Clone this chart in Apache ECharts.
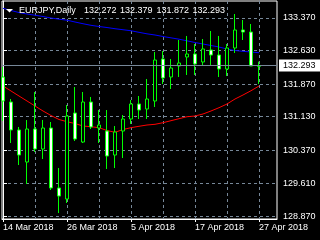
<!DOCTYPE html>
<html><head><meta charset="utf-8">
<script src="https://cdn.jsdelivr.net/npm/echarts@6/dist/echarts.min.js"></script>
<style>html,body{margin:0;padding:0;background:#000;}#c{width:320px;height:240px;}</style>
</head><body><div id="c"></div>
<script>
const symbol = 'EURJPY';
const timeframe = 'Daily';
const dates = ['14 Mar 2018','15 Mar 2018','16 Mar 2018','19 Mar 2018','20 Mar 2018','21 Mar 2018','22 Mar 2018','23 Mar 2018','26 Mar 2018','27 Mar 2018','28 Mar 2018','29 Mar 2018','30 Mar 2018','2 Apr 2018','3 Apr 2018','4 Apr 2018','5 Apr 2018','6 Apr 2018','9 Apr 2018','10 Apr 2018','11 Apr 2018','12 Apr 2018','13 Apr 2018','16 Apr 2018','17 Apr 2018','18 Apr 2018','19 Apr 2018','20 Apr 2018','23 Apr 2018','24 Apr 2018','25 Apr 2018','26 Apr 2018','27 Apr 2018'];
const open  = [132.031,131.464,130.829,130.102,130.851,130.397,130.874,129.513,129.263,131.214,130.556,131.464,130.874,130.806,130.261,130.806,131.078,131.419,131.305,131.487,132.440,132.031,132.281,132.485,132.553,132.372,132.644,132.530,132.213,132.689,133.098,133.052,132.272];
const high  = [132.258,131.532,130.897,131.055,131.691,131.055,131.010,129.966,131.396,131.804,131.691,131.578,131.282,131.282,130.919,131.169,131.509,131.600,131.986,132.599,132.621,132.440,132.871,132.962,132.780,132.893,133.075,132.962,132.780,133.461,133.325,133.234,132.379];
const low   = [131.033,130.534,130.034,129.603,130.329,130.171,129.467,128.945,129.172,130.579,130.534,130.851,130.534,129.944,129.966,130.193,130.965,131.078,131.078,131.350,131.872,131.759,132.031,132.077,132.077,132.304,132.304,132.031,132.054,132.576,132.871,132.281,131.872];
const close = [131.487,130.829,130.261,130.851,130.397,130.874,129.513,129.330,131.146,130.624,131.464,130.897,130.942,130.239,130.783,131.078,131.419,131.282,131.532,132.417,132.009,132.235,132.349,132.553,132.326,132.667,132.530,132.213,132.689,133.098,133.052,132.281,132.293];
const maRed  = [131.827,131.714,131.600,131.487,131.373,131.260,131.158,131.067,131.017,130.976,130.919,130.903,130.881,130.817,130.776,130.840,130.881,130.913,130.942,130.958,130.994,131.040,131.085,131.130,131.146,131.192,131.260,131.335,131.419,131.532,131.623,131.720,131.827];
const maBlue = [133.590,133.540,133.494,133.460,133.433,133.404,133.370,133.343,133.320,133.279,133.240,133.204,133.177,133.154,133.127,133.104,133.081,133.045,133.011,132.984,132.950,132.920,132.889,132.852,132.814,132.780,132.746,132.712,132.666,132.632,132.614,132.598,132.582];
const priceTicks = [128.870,129.610,130.370,131.130,131.870,132.630,133.370];
const dateTickIdx = [0,8,16,24,32];
const gridIdx = [4,8,12,16,20,24,28,32];

const FONT = '"Liberation Sans", Arial, sans-serif';
const last = close.length - 1;
const candleData = dates.map((d,i)=>[i, open[i], close[i], low[i], high[i]]);
const xMin = -0.125, xMax = 34.25;
const chart = echarts.init(document.getElementById('c'), null, {renderer:'canvas'});
const titleParts = [symbol + ',' + timeframe].concat([open[last],high[last],low[last],close[last]].map(v=>v.toFixed(3)));
const titleX = [19, 84, 120, 156.5, 192.5];
const titleGraphics = titleParts.map((t,k)=>({type:'text', x:titleX[k], y:10.5, z:10,
  style:{text:t, fill:'#fff', font:'9px ' + FONT, verticalAlign:'middle'}}));
chart.setOption({
  animation:false,
  backgroundColor:'#000',
  grid:{left:2, top:1, right:43, bottom:21, show:true, borderColor:'#fff', borderWidth:1, backgroundColor:'transparent'},
  xAxis:[{
    type:'value', min:xMin, max:xMax, position:'bottom',
    axisLine:{show:true, lineStyle:{color:'#fff', width:1}},
    axisTick:{show:true, length:3, lineStyle:{color:'#fff'}, customValues:dateTickIdx},
    axisLabel:{show:true, customValues:dateTickIdx, color:'#fff', fontSize:9, fontFamily:FONT, align:'left', margin:4,
      formatter:v=>dates[Math.round(v)]||''},
    splitLine:{show:false}
  },{
    type:'value', min:xMin, max:xMax, position:'bottom',
    axisLine:{show:false}, axisLabel:{show:false},
    axisTick:{show:false, customValues:gridIdx},
    splitLine:{show:true, lineStyle:{color:'#778899', type:[3,3], width:1}}
  }],
  yAxis:{
    type:'value', position:'right', min:128.8093, max:133.7558, scale:true,
    axisLine:{show:true, lineStyle:{color:'#fff'}},
    axisTick:{show:true, length:4, lineStyle:{color:'#fff'}, customValues:priceTicks},
    axisLabel:{customValues:priceTicks, color:'#fff', fontSize:9, fontFamily:FONT, margin:6, formatter:v=>v.toFixed(3)},
    splitLine:{show:true, lineStyle:{color:'#778899', type:[3,3], width:1}}
  },
  series:[
    {type:'line', xAxisIndex:0, data:maBlue.map((v,i)=>[i,v]), showSymbol:false, symbol:'none', lineStyle:{color:'#0000ff', width:1}, clip:true, z:3},
    {type:'line', xAxisIndex:0, data:maRed.map((v,i)=>[i,v]), showSymbol:false, symbol:'none', lineStyle:{color:'#ff0000', width:1}, clip:true, z:3},
    {type:'candlestick', xAxisIndex:0, data:candleData, encode:{x:0, y:[1,2,3,4]}, barWidth:4, clip:true, z:4,
      itemStyle:{color:'#000', color0:'#fff', borderColor:'#00ff00', borderColor0:'#00ff00', borderWidth:1},
      markLine:{silent:true, symbol:'none', data:[{yAxis:close[last]}],
        lineStyle:{color:'#778899', type:'solid', width:1},
        label:{show:true, position:'end', distance:2, formatter:()=>close[last].toFixed(3), color:'#000', backgroundColor:'#fff',
          fontSize:9, fontFamily:FONT, padding:[2,6,1,4]}}
    }
  ],
  graphic:[
    {type:'polygon', shape:{points:[[6,9],[13,9],[9.5,12.5]]}, style:{fill:'#fff'}, z:10}
  ].concat(titleGraphics)
});
</script></body></html>
